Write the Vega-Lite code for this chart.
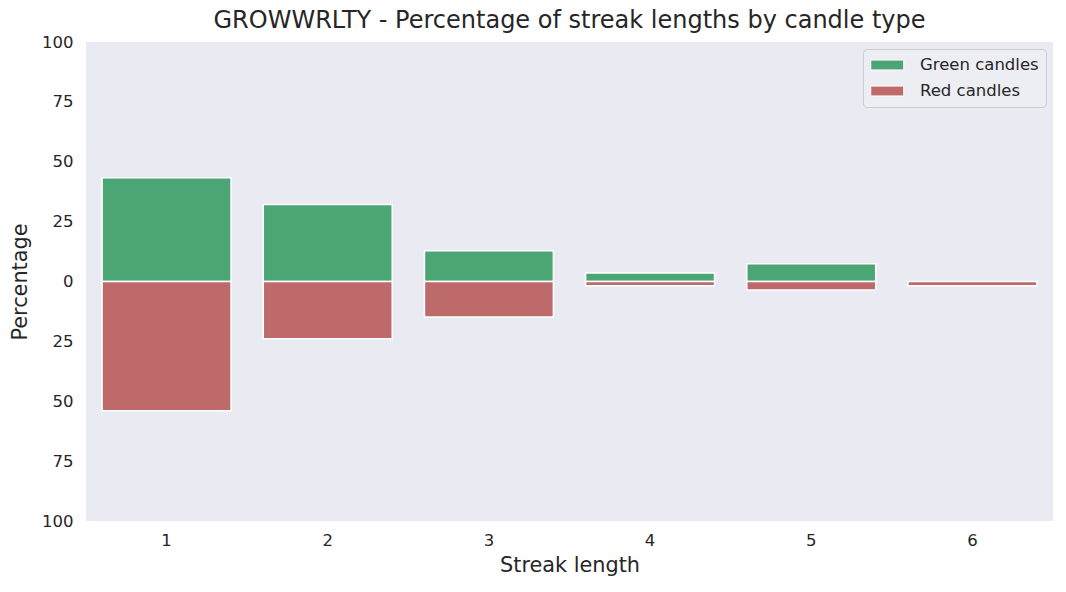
{
  "$schema": "https://vega.github.io/schema/vega-lite/v6.json",
  "autosize": {"type": "none"},
  "width": 967,
  "height": 479,
  "padding": {"left": 86, "top": 42, "right": 13, "bottom": 71},
  "background": "white",
  "title": {
    "text": "GROWWRLTY - Percentage of streak lengths by candle type",
    "font": "DejaVu Sans",
    "fontSize": 24,
    "fontWeight": "normal",
    "color": "#262626",
    "offset": 1
  },
  "config": {
    "view": {"fill": "#EAEAF2", "stroke": null},
    "font": "DejaVu Sans"
  },
  "data": {
    "values": [
      {"streak": "1", "candle": "Green candles", "value": 43.3},
      {"streak": "1", "candle": "Red candles", "value": -54.0},
      {"streak": "2", "candle": "Green candles", "value": 32.1},
      {"streak": "2", "candle": "Red candles", "value": -23.9},
      {"streak": "3", "candle": "Green candles", "value": 12.8},
      {"streak": "3", "candle": "Red candles", "value": -14.8},
      {"streak": "4", "candle": "Green candles", "value": 3.5},
      {"streak": "4", "candle": "Red candles", "value": -1.8},
      {"streak": "5", "candle": "Green candles", "value": 7.4},
      {"streak": "5", "candle": "Red candles", "value": -3.6},
      {"streak": "6", "candle": "Red candles", "value": -1.8}
    ]
  },
  "mark": {"type": "bar", "stroke": "white", "strokeWidth": 1.5},
  "encoding": {
    "x": {
      "field": "streak",
      "type": "ordinal",
      "scale": {"paddingInner": 0.2, "paddingOuter": 0.1},
      "axis": {
        "title": "Streak length",
        "titleFontSize": 20.8,
        "titleFontWeight": "normal",
        "titleColor": "#262626",
        "titlePadding": 7,
        "labelFontSize": 16.5,
        "labelColor": "#262626",
        "labelAngle": 0,
        "labelPadding": 11,
        "domain": false,
        "ticks": false
      }
    },
    "y": {
      "field": "value",
      "type": "quantitative",
      "stack": null,
      "scale": {"domain": [-100, 100], "nice": false},
      "axis": {
        "title": "Percentage",
        "titleFontSize": 20.8,
        "titleFontWeight": "normal",
        "titleColor": "#262626",
        "titlePadding": 11,
        "values": [-100, -75, -50, -25, 0, 25, 50, 75, 100],
        "labelExpr": "abs(datum.value)",
        "labelFontSize": 16.5,
        "labelColor": "#262626",
        "labelPadding": 13,
        "domain": false,
        "ticks": false,
        "grid": false
      }
    },
    "color": {
      "field": "candle",
      "type": "nominal",
      "scale": {"domain": ["Green candles", "Red candles"], "range": ["#4CA574", "#BF6A6A"]},
      "legend": {
        "title": null,
        "orient": "top-right",
        "offset": 7,
        "fillColor": "#EDEDF4",
        "strokeColor": "#CCCCCC",
        "cornerRadius": 4,
        "padding": 7,
        "labelFontSize": 16.5,
        "labelColor": "#262626",
        "labelOffset": 32,
        "rowPadding": 8,
        "symbolType": "M-1,-0.6H3V0.6H-1Z",
        "symbolSize": 272,
        "symbolStrokeColor": "white",
        "symbolStrokeWidth": 1,
        "symbolOpacity": 1
      }
    }
  }
}
